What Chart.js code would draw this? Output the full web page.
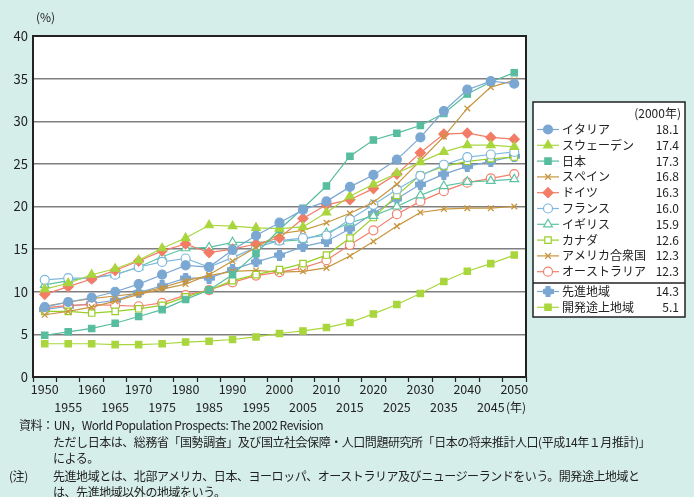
<!DOCTYPE html>
<html>
<head>
<meta charset="utf-8">
<script src="https://cdn.jsdelivr.net/npm/chart.js"></script>
<style>
body { margin: 0; background: #d6eee9; }
#wrap { position: relative; width: 694px; height: 497px; overflow: hidden; }
#grafico { position: absolute; left: 0; top: 0; }
.nota { position: absolute; font-family: "Noto Sans CJK JP"; font-size: 12px; color: #222; white-space: nowrap; line-height: 16px; letter-spacing: -0.45px; }
</style>
</head>
<body>
<div id="wrap">
	<canvas id="grafico" width="694" height="497"></canvas>
	<div class="nota" style="left:19px;top:417px">資料：UN，World Population Prospects: The 2002 Revision</div>
	<div class="nota" style="left:53px;top:434px">ただし日本は、総務省「国勢調査」及び国立社会保障・人口問題研究所「日本の将来推計人口(平成14年１月推計)」</div>
	<div class="nota" style="left:53px;top:450px">による。</div>
	<div class="nota" style="left:9px;top:468px">(注)</div>
	<div class="nota" style="left:53px;top:468px">先進地域とは、北部アメリカ、日本、ヨーロッパ、オーストラリア及びニュージーランドをいう。開発途上地域と</div>
	<div class="nota" style="left:53px;top:484px">は、先進地域以外の地域をいう。</div>
</div>
<script>
// 高齢化率 (65歳以上人口の割合, %)
var anos = [1950, 1955, 1960, 1965, 1970, 1975, 1980, 1985, 1990, 1995, 2000,
	2005, 2010, 2015, 2020, 2025, 2030, 2035, 2040, 2045, 2050];

var italia = [8.2, 8.8, 9.3, 10.0, 10.9, 12.0, 13.1, 12.9, 14.9, 16.6, 18.1, 19.6, 20.6, 22.3, 23.7, 25.5, 28.1, 31.2, 33.7, 34.7, 34.4];
var suecia = [10.3, 11.0, 12.0, 12.7, 13.7, 15.1, 16.3, 17.8, 17.7, 17.5, 17.4, 17.6, 19.3, 21.2, 22.6, 23.9, 25.2, 26.4, 27.2, 27.2, 27.0];
var japao = [4.9, 5.3, 5.7, 6.3, 7.1, 7.9, 9.1, 10.2, 12.0, 14.5, 17.3, 19.8, 22.4, 25.9, 27.8, 28.6, 29.5, 30.9, 33.2, 34.6, 35.7];
var espanha = [7.3, 7.7, 8.2, 8.9, 9.7, 10.3, 10.9, 12.0, 13.6, 15.2, 16.8, 17.2, 18.1, 19.2, 20.5, 22.6, 25.4, 28.2, 31.5, 34.0, 34.8];
var alemanha = [9.7, 10.6, 11.5, 12.5, 13.6, 14.8, 15.6, 14.6, 15.0, 15.6, 16.3, 18.6, 20.2, 20.8, 22.1, 23.8, 26.3, 28.5, 28.6, 28.1, 27.9];
var franca = [11.4, 11.6, 11.6, 12.0, 12.9, 13.5, 13.9, 12.9, 14.0, 15.2, 16.0, 16.3, 16.6, 18.5, 20.2, 22.0, 23.6, 24.9, 25.8, 26.1, 26.4];
var inglaterra = [10.8, 11.3, 11.7, 12.0, 12.9, 14.1, 15.1, 15.2, 15.8, 15.8, 15.9, 16.1, 16.9, 18.1, 18.9, 20.0, 21.3, 22.4, 22.9, 23.0, 23.2];
var canada = [7.7, 7.7, 7.5, 7.7, 8.0, 8.4, 9.4, 10.2, 11.3, 12.0, 12.6, 13.3, 14.3, 16.3, 18.7, 21.3, 23.7, 24.7, 25.3, 25.6, 25.8];
var eua = [8.3, 8.8, 9.2, 9.5, 9.8, 10.5, 11.3, 11.9, 12.4, 12.5, 12.3, 12.4, 12.8, 14.2, 15.9, 17.7, 19.3, 19.7, 19.8, 19.8, 20.0];
var australia = [8.1, 8.4, 8.5, 8.4, 8.3, 8.7, 9.6, 10.2, 11.1, 11.9, 12.3, 12.8, 13.7, 15.5, 17.2, 19.1, 20.6, 21.8, 22.8, 23.3, 23.8];
var desenvolvidos = [7.9, 8.3, 8.6, 9.0, 9.9, 10.7, 11.6, 11.6, 12.6, 13.5, 14.3, 15.3, 15.9, 17.4, 19.2, 20.9, 22.6, 23.8, 24.7, 25.3, 25.9];
var em_desenvolvimento = [3.9, 3.9, 3.9, 3.8, 3.8, 3.9, 4.1, 4.2, 4.4, 4.7, 5.1, 5.4, 5.8, 6.4, 7.4, 8.5, 9.8, 11.2, 12.4, 13.3, 14.3];

var nomes = ["イタリア", "スウェーデン", "日本", "スペイン", "ドイツ", "フランス", "イギリス", "カナダ",
	"アメリカ合衆国", "オーストラリア", "先進地域", "開発途上地域"];
var valores2000 = ["18.1", "17.4", "17.3", "16.8", "16.3", "16.0", "15.9", "12.6", "12.3", "12.3", "14.3", "5.1"];
var ticksY = [0, 5, 10, 15, 20, 25, 30, 35, 40];

var fonte = "Noto Sans CJK JP";
var azul = "#7ba7d3";

// 先進地域のマーカー (太い十字)
function marcadorCruz(cor) {
	var c = document.createElement("canvas");
	c.width = 11;
	c.height = 11;
	var g = c.getContext("2d");
	g.fillStyle = cor;
	g.fillRect(3, 0, 5, 11);
	g.fillRect(0, 3, 11, 5);
	g.beginPath();
	g.arc(5.5, 5.5, 4.3, 0, Math.PI * 2);
	g.fill();
	return c;
}

function serie(label, data, cor, estilo, aberto, raio) {
	return {
		label: label,
		data: data,
		borderColor: cor,
		borderWidth: 1.2,
		pointStyle: estilo,
		pointRadius: raio,
		pointHoverRadius: raio,
		pointBackgroundColor: aberto ? "#fff" : cor,
		pointBorderColor: cor,
		pointBorderWidth: estilo == "crossRot" ? 1.3 : 1.2,
		tension: 0,
		fill: false
	};
}

var dados = [
	serie(nomes[0], italia, azul, "circle", false, 4.5),
	serie(nomes[1], suecia, "#a9d63d", "triangle", false, 5),
	serie(nomes[2], japao, "#57bd9e", "rect", false, 4.5),
	serie(nomes[3], espanha, "#c8963e", "crossRot", false, 4),
	serie(nomes[4], alemanha, "#f27c66", "rectRot", false, 5),
	serie(nomes[5], franca, "#7db8dd", "circle", true, 4.5),
	serie(nomes[6], inglaterra, "#5dc3a3", "triangle", true, 5),
	serie(nomes[7], canada, "#97cf27", "rect", true, 4.5),
	serie(nomes[8], eua, "#c8963e", "crossRot", false, 4),
	serie(nomes[9], australia, "#f2806c", "circle", true, 4.5),
	serie(nomes[10], desenvolvidos, azul, marcadorCruz(azul), false, 5),
	serie(nomes[11], em_desenvolvimento, "#a9d63d", "rect", false, 4.5)
];

// 白い描画領域と枠線
var moldura = {
	id: "moldura",
	beforeDraw: function (chart) {
		var a = chart.chartArea;
		var ctx = chart.ctx;
		ctx.save();
		ctx.fillStyle = "#fff";
		ctx.fillRect(a.left, a.top, a.right - a.left, a.bottom - a.top);
		ctx.restore();
	},
	beforeDatasetsDraw: function (chart) {
		var a = chart.chartArea;
		var ctx = chart.ctx;
		ctx.save();
		ctx.strokeStyle = "#222";
		ctx.lineWidth = 2;
		ctx.strokeRect(a.left, a.top, a.right - a.left, a.bottom - a.top);
		ctx.fillStyle = "#222";
		ctx.font = "12px '" + fonte + "'";
		ctx.textBaseline = "middle";
		ctx.textAlign = "left";
		ctx.fillText("(%)", 36, 17);
		ctx.fillText("(年)", 506, 407);
		ctx.restore();
	}
};

// 凡例 (2000年の値つき)
var legenda = {
	id: "legenda",
	afterDraw: function (chart) {
		var ctx = chart.ctx;
		ctx.save();
		ctx.fillStyle = "#fff";
		ctx.fillRect(533, 102, 152, 215);
		ctx.strokeStyle = "#222";
		ctx.lineWidth = 1.5;
		ctx.strokeRect(533, 102, 152, 215);
		ctx.beginPath();
		ctx.moveTo(533, 283);
		ctx.lineTo(685, 283);
		ctx.stroke();

		ctx.font = "12px '" + fonte + "'";
		ctx.textBaseline = "middle";
		ctx.fillStyle = "#222";
		ctx.textAlign = "right";
		ctx.fillText("(2000年)", 681, 113);

		for (var i = 0; i < chart.data.datasets.length; i++) {
			var ds = chart.data.datasets[i];
			var y = i < 10 ? 129.5 + 15.8 * i : 291.5 + 15.8 * (i - 10);
			ctx.strokeStyle = ds.borderColor;
			ctx.lineWidth = 1.2;
			ctx.beginPath();
			ctx.moveTo(537, y);
			ctx.lineTo(559, y);
			ctx.stroke();
			ctx.fillStyle = ds.pointBackgroundColor;
			ctx.strokeStyle = ds.pointBorderColor;
			ctx.lineWidth = ds.pointBorderWidth;
			Chart.helpers.drawPoint(ctx, {
				pointStyle: ds.pointStyle,
				radius: ds.pointRadius,
				borderWidth: ds.pointBorderWidth,
				rotation: 0
			}, 548, y);
			ctx.fillStyle = "#222";
			ctx.textAlign = "left";
			ctx.fillText(ds.label, 562, y);
			ctx.textAlign = "right";
			ctx.fillText(valores2000[i], 679, y);
		}
		ctx.restore();
	}
};

var grafico = new Chart(document.getElementById("grafico"), {
	type: "line",
	data: {
		labels: anos,
		datasets: dados
	},
	options: {
		responsive: false,
		animation: false,
		events: [],
		layout: {
			padding: { left: 0, top: 36, right: 168, bottom: 0 }
		},
		plugins: {
			legend: { display: false },
			tooltip: { enabled: false }
		},
		scales: {
			x: {
				offset: true,
				border: { display: false },
				grid: {
					drawOnChartArea: false,
					offset: true,
					tickLength: 5,
					tickColor: "#222",
					tickWidth: 1.2
				},
				ticks: {
					autoSkip: false,
					maxRotation: 0,
					minRotation: 0,
					padding: -2,
					color: "#222",
					font: { family: fonte, size: 12.5, lineHeight: 1.45 },
					callback: function (valor, i) {
						return i % 2 == 0 ? [String(anos[i]), ""] : ["", String(anos[i])];
					}
				},
				afterFit: function (escala) {
					escala.height = 120;
				}
			},
			y: {
				min: 0,
				max: 40,
				border: { display: false },
				grid: {
					color: "#7f7f7f",
					lineWidth: 1.5,
					drawTicks: false
				},
				ticks: {
					stepSize: 5,
					padding: 5,
					color: "#222",
					font: { family: fonte, size: 13 },
					callback: function (valor) {
						return ticksY.indexOf(valor) >= 0 ? String(valor) : "";
					}
				},
				afterFit: function (escala) {
					escala.width = 33;
				}
			}
		}
	},
	plugins: [moldura, legenda]
});
</script>
</body>
</html>
